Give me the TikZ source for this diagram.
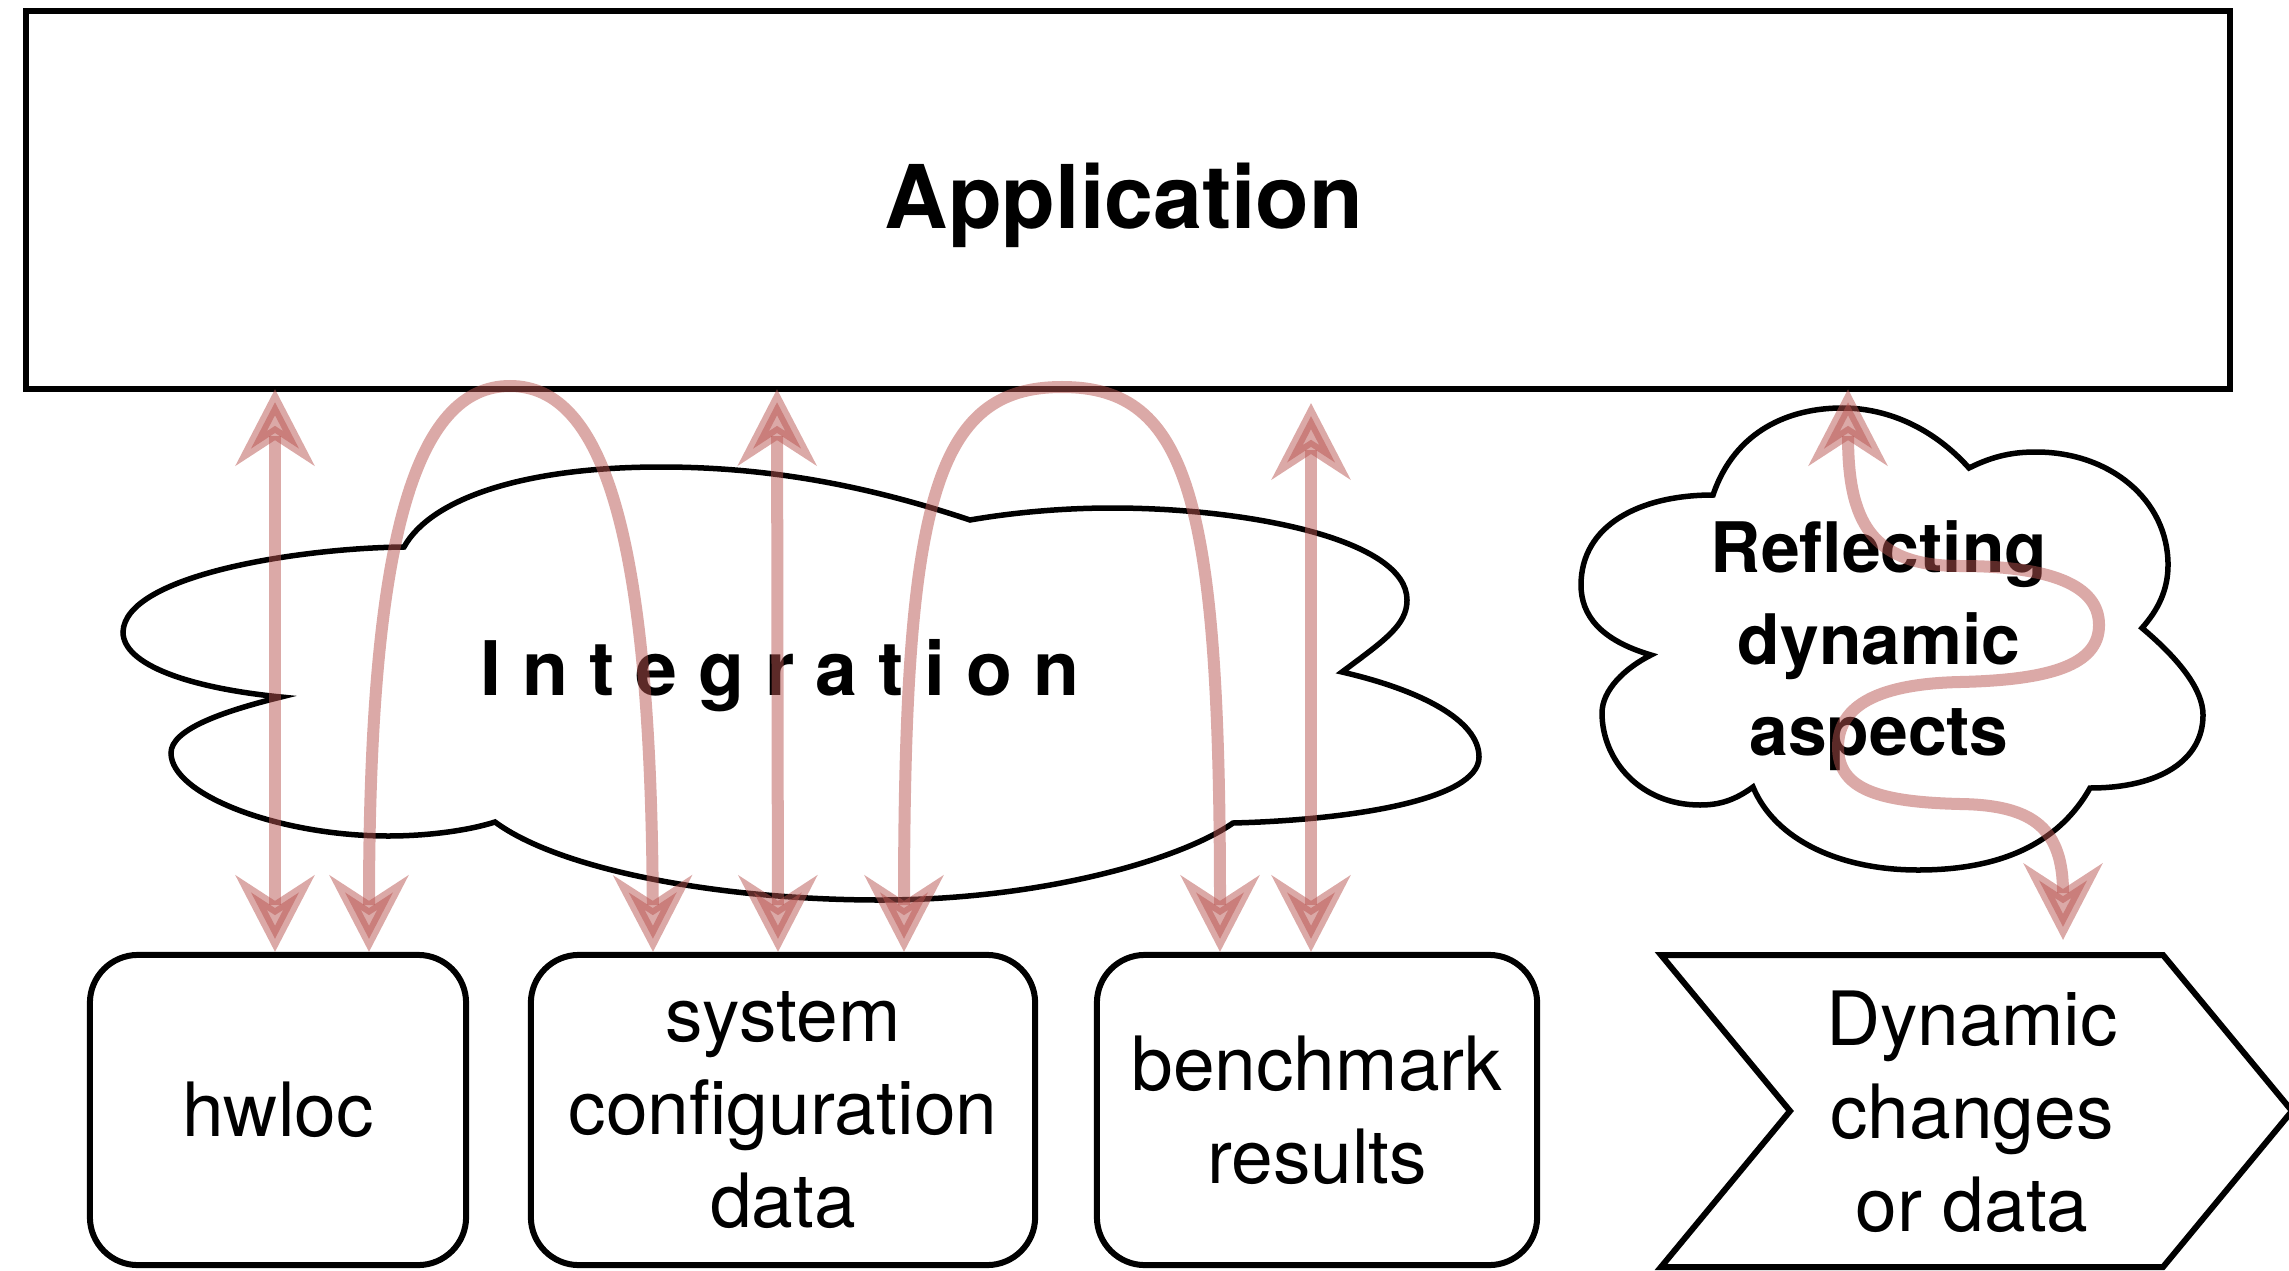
\documentclass[tikz,border=0pt]{standalone}
\usepackage{fontspec}
\setmainfont{TeX Gyre Heros}
\usetikzlibrary{arrows.meta,calc}
\definecolor{flowred}{HTML}{B85450}

\begin{document}
\begin{tikzpicture}[x=0.01cm, y=-0.01cm,
  box/.style={draw, line width=0.06cm, rounded corners=0.48cm, minimum height=3.10cm,
    inner sep=0pt, align=center, font=\fontsize{21.3}{26.4}\selectfont},
  outline/.style={draw, line width=0.055cm, fill=white, line join=miter},
  flowtip/.tip={Stealth[length=0.76cm, width=0.78cm, inset=0.25cm]},
  flow/.style={draw=flowred, opacity=0.5, line width=0.12cm, arrows={flowtip-flowtip}},
]
\useasboundingbox (0,0) rectangle (2289,1270);

% application layer
\node[draw, line width=0.06cm, outer sep=0pt, inner sep=0pt,
      minimum width=22.02cm, minimum height=3.775cm] (app) at (1128,200.25) {};
\node[anchor=base, font=\bfseries\fontsize{25}{30}\selectfont] (apptitle) at (1124,229) {Application};

% integration cloud
\draw[outline] (404,547) .. controls (430,500) and (520,467) .. (661,467)
  .. controls (780,467) and (880,490) .. (970,520)
  .. controls (1010,513) and (1060,508) .. (1112,508)
  .. controls (1250,508) and (1407,540) .. (1407,600)
  .. controls (1407,625) and (1385,640) .. (1342,672)
  .. controls (1420,690) and (1479,720) .. (1479,757)
  .. controls (1479,800) and (1350,820) .. (1233,823)
  .. controls (1180,860) and (1040,900) .. (880,900)
  .. controls (720,900) and (560,870) .. (495,822)
  .. controls (470,830) and (430,836) .. (388,836)
  .. controls (280,836) and (171,795) .. (171,753)
  .. controls (171,730) and (220,712) .. (281,697)
  .. controls (190,688) and (123,665) .. (123,632)
  .. controls (125,575) and (300,548) .. (404,547) -- cycle;
\node[anchor=base, font=\bfseries\fontsize{21.4}{26}\selectfont] (integ) at (780,695) {I n t e g r a t i o n};

% dynamic aspects cloud
\draw[outline] (1713,495) .. controls (1735,430) and (1790,408) .. (1842,408)
  .. controls (1890,408) and (1935,430) .. (1969,468)
  .. controls (1995,455) and (2015,452) .. (2036,452)
  .. controls (2110,452) and (2168,500) .. (2168,565)
  .. controls (2168,590) and (2158,610) .. (2142,628)
  .. controls (2180,660) and (2203,690) .. (2203,715)
  .. controls (2203,760) and (2160,788) .. (2090,788)
  .. controls (2055,850) and (1990,870) .. (1918,870)
  .. controls (1840,870) and (1775,840) .. (1753,787)
  .. controls (1735,800) and (1720,805) .. (1700,805)
  .. controls (1640,805) and (1602,760) .. (1602,713)
  .. controls (1602,690) and (1625,668) .. (1651,655)
  .. controls (1600,640) and (1581,615) .. (1581,585)
  .. controls (1581,525) and (1640,495) .. (1713,495) -- cycle;
\node[align=center, font=\bfseries\fontsize{19.8}{26}\selectfont] (refl) at (1879,646) {Reflecting\\dynamic\\aspects};

% data sources
\node[box, minimum width=3.76cm] (hwloc) at (278,1110) {hwloc};
\node[box, minimum width=5.04cm] (sysconf) at (783,1110) {system\\configuration\\data};
\node[box, minimum width=4.40cm] (bench) at (1317,1110) {benchmark\\results};

% dynamic input chevron
\draw[line width=0.06cm, line join=miter] (1661,955) -- (2163,955) -- (2292,1111)
  -- (2163,1267) -- (1661,1267) -- (1790,1111) -- cycle;
\node[align=center, font=\fontsize{21.3}{26.4}\selectfont] (dyn) at (1972,1112) {Dynamic\\changes\\or data};

\coordinate (benchtop) at (1311,403);
\coordinate (dynin) at (2063,940);

% data flows
\draw[flow] ($(hwloc.north)+(-3,0)$) -- ($(app.south)+(-853,0)$);
\draw[flow] ($(hwloc.north)+(91,0)$) .. controls (369,540) and (415,386) .. (510,386)
  .. controls (605,386) and (651,540) .. ($(sysconf.north)+(-130,0)$);
\draw[flow] ($(sysconf.north)+(-5,0)$) -- ($(app.south)+(-351,0)$);
\draw[flow] ($(sysconf.north)+(121,0)$) .. controls (904,500) and (935,387) .. (1062,387)
  .. controls (1189,387) and (1220,500) .. ($(bench.north)+(-97,0)$);
\draw[flow] ($(bench.north)+(-6,0)$) -- (benchtop);
\draw[flow] ($(app.south)+(720,0)$) .. controls (1848,520) and (1870,566) .. (1960,566)
  .. controls (2050,566) and (2099,585) .. (2099,625)
  .. controls (2099,665) and (2050,680) .. (1960,682)
  .. controls (1870,684) and (1838,710) .. (1838,747)
  .. controls (1838,790) and (1880,802) .. (1960,804)
  .. controls (2035,805) and (2063,830) .. (dynin);
\end{tikzpicture}
\end{document}
